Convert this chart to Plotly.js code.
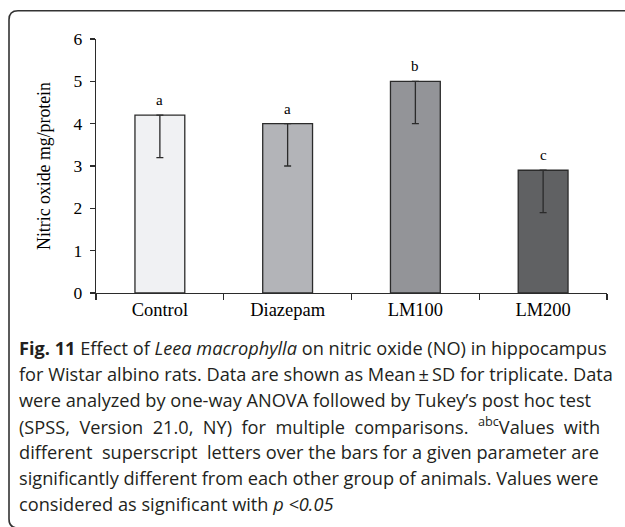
<!DOCTYPE html>
<html>
<head>
<meta charset="utf-8">
<script src="https://cdn.plot.ly/plotly-3.0.1.min.js"></script>
<style>
  html, body { margin: 0; padding: 0; background: #ffffff; }
  #chart { width: 625px; height: 527px; }
</style>
</head>
<body>
<div id="chart"></div>
<script>
// ---- data ----
const categories = ['Control', 'Diazepam', 'LM100', 'LM200'];
const meanValues = [4.2, 4.0, 5.0, 2.9];
const sdValues = [1.0, 1.0, 1.0, 1.0];
const groupLetters = ['a', 'a', 'b', 'c'];
const yTickValues = [0, 1, 2, 3, 4, 5, 6];
const yAxisTitle = 'Nitric oxide mg/protein';
const captionLines = [
  '<b>Fig. 11</b> Effect of <i>Leea macrophylla</i> on nitric oxide (NO) in hippocampus',
  'for Wistar albino rats. Data are shown as Mean\u2009\u00b1\u2009SD for triplicate. Data',
  'were analyzed by one-way ANOVA followed by Tukey\u2019s post hoc test',
  '(SPSS,\u00a0 Version\u00a0 21.0,\u00a0 NY)\u00a0 for\u00a0 multiple\u00a0 comparisons.\u00a0 <sup>abc</sup>Values\u00a0 with',
  'different\u00a0 superscript\u00a0 letters over the bars for a given parameter are',
  'significantly different from each other group of animals. Values were',
  'considered as significant with <i>p &lt;0.05</i>'
];

// ---- style ----
const barColors = ['#f0f1f3', '#b3b4b8', '#939498', '#606163'];
const ink = '#2b2b2b';
const serifName = 'Liberation Serif';
const sansName = 'Open Sans';
const serif = '"Liberation Serif", "Times New Roman", serif';
const sans = '"Open Sans", "Noto Sans", sans-serif';

// measure text widths to pick font sizes that match the reference's text extents
const cv = document.createElement('canvas').getContext('2d');
function measure(str, fam, size, weight, style) {
  cv.font = (style || 'normal') + ' ' + (weight || 'normal') + ' ' + size + 'px "' + fam + '"';
  return cv.measureText(str).width;
}
function measureRich(html, fam, size) {
  const s = html.replace(/&lt;/g, '<').replace(/&gt;/g, '>');
  let bold = false, ital = false, sup = false, w = 0;
  s.split(/(<\/?[bi]>|<\/?sup>)/).forEach(tok => {
    if (tok === '<b>') bold = true; else if (tok === '</b>') bold = false;
    else if (tok === '<i>') ital = true; else if (tok === '</i>') ital = false;
    else if (tok === '<sup>') sup = true; else if (tok === '</sup>') sup = false;
    else if (tok) w += measure(tok, fam, sup ? size * 0.7 : size, bold ? 'bold' : 'normal', ital ? 'italic' : 'normal');
  });
  return w;
}
// right edges of the caption lines in the reference (px), caption starts at x = 17
const capLeft = 17;
const capRight = [621, 613, 617, 620, 620, 608];
let capSize = 20;
capRight.forEach((rEdge, i) => {
  const fit = 100 * (rEdge - capLeft - 2) / measureRich(captionLines[i], sansName, 100);
  capSize = Math.min(capSize, fit);
});
capSize = Math.max(13, capSize);
const catSize = Math.min(20, Math.max(13, 100 * 56.5 / measure('Control', serifName, 100)));
const titleSize = Math.min(21, Math.max(13, 100 * 168 / measure(yAxisTitle, serifName, 100)));

const W = 625, H = 527;
const M = { l: 96, r: 18, t: 39, b: 234 };
const PW = W - M.l - M.r, PH = H - M.t - M.b;
const px2x = p => (p - M.l) / PW;
const px2y = p => (H - M.b - p) / PH;

const trace = {
  type: 'bar',
  x: categories,
  y: meanValues,
  marker: { color: barColors, line: { color: ink, width: 1.3 } },
  error_y: {
    type: 'data', symmetric: false,
    array: sdValues.map(() => 0),
    arrayminus: sdValues,
    color: ink, thickness: 1.3, width: 3.5
  },
  hoverinfo: 'skip'
};

const annotations = categories.map((c, i) => ({
  x: c, y: meanValues[i], xref: 'x', yref: 'y',
  text: groupLetters[i], showarrow: false,
  yanchor: 'bottom', yshift: 5,
  font: { family: serif, size: 15, color: '#000' }
}));

const firstBaseline = 355, lineStep = 26;
captionLines.forEach((t, i) => {
  const base = firstBaseline + i * lineStep;
  annotations.push({
    xref: 'paper', yref: 'paper',
    x: px2x(capLeft), y: px2y(base - 0.39 * capSize),
    xanchor: 'left', yanchor: 'middle',
    text: t, showarrow: false, align: 'left',
    font: { family: sans, size: capSize, color: '#231f20' }
  });
});

// border: rounded top-left and bottom-left, open to the right
const r = 9;
const L = 9, T = 10.7, B = 528;
const pts = [
  ['M', W + 2, T],
  ['L', L + r, T],
  ['Q', L, T, L, T + r],
  ['L', L, B - r],
  ['Q', L, B, L + r, B],
  ['L', W + 2, B]
];
let path = '';
pts.forEach(p => {
  if (p[0] === 'Q') {
    path += 'Q' + px2x(p[1]) + ',' + px2y(p[2]) + ' ' + px2x(p[3]) + ',' + px2y(p[4]) + ' ';
  } else {
    path += p[0] + px2x(p[1]) + ',' + px2y(p[2]) + ' ';
  }
});

const layout = {
  width: W, height: H,
  margin: M,
  paper_bgcolor: '#ffffff', plot_bgcolor: '#ffffff',
  showlegend: false,
  bargap: 0.61,
  font: { family: serif, color: '#000' },
  xaxis: {
    type: 'category',
    showline: true, linecolor: ink, linewidth: 1.3,
    ticks: 'outside', tickson: 'boundaries', ticklen: 6, tickwidth: 1.2, tickcolor: ink,
    showgrid: false, zeroline: false,
    tickfont: { family: serif, size: catSize, color: '#000' },
    fixedrange: true
  },
  yaxis: {
    range: [0, 6], tickmode: 'array', tickvals: yTickValues,
    ticktext: yTickValues.map(String),
    showline: true, linecolor: ink, linewidth: 1.3,
    ticks: 'outside', ticklen: 5, tickwidth: 1.2, tickcolor: ink,
    ticklabelstandoff: 4,
    showgrid: false, zeroline: false,
    tickfont: { family: serif, size: 17.5, color: '#000' },
    title: { text: yAxisTitle, font: { family: serif, size: titleSize, color: '#000' } },
    fixedrange: true
  },
  annotations: annotations,
  shapes: [{
    type: 'path', xref: 'paper', yref: 'paper', path: path,
    line: { color: '#333333', width: 1.6 }, fillcolor: 'rgba(0,0,0,0)', layer: 'above'
  }]
};

Plotly.newPlot('chart', [trace], layout, { displayModeBar: false, staticPlot: true });
</script>
</body>
</html>
